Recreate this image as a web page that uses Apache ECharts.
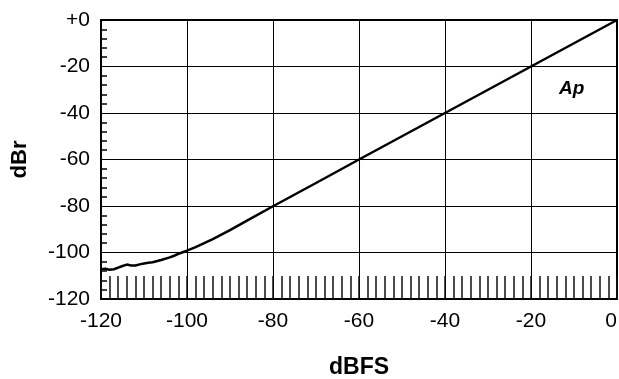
<!DOCTYPE html>
<html>
<head>
<meta charset="utf-8">
<script src="https://cdn.jsdelivr.net/npm/echarts@6/dist/echarts.min.js"></script>
<style>
  html, body { margin: 0; padding: 0; background: #fff; }
  #chart { width: 619px; height: 379px; }
</style>
</head>
<body>
<div id="chart"></div>
<script>
// input level (dBFS) and measured output (dBr)
var inputLevel = [-120, -119, -118, -117, -116, -115, -114, -113, -112, -111, -110, -109, -108, -106, -104, -103, -102, -101, -100, -98, -96, -94, -92, -90, -85, -80, -70, -60, -50, -40, -30, -20, -10, 0];
var outputLevel = [-107.2, -107.0, -107.4, -107.2, -106.5, -105.8, -105.2, -105.6, -105.6, -105.1, -104.7, -104.4, -104.2, -103.2, -102.1, -101.4, -100.6, -99.9, -99.2, -97.7, -96.0, -94.2, -92.3, -90.4, -85.2, -80.1, -70.1, -60.0, -50.0, -40.0, -30.0, -20.0, -10.0, 0];
var xTicks = { min: -120, max: 0, step: 20 };
var yTicks = { min: -120, max: 0, step: 20 };

var chart = echarts.init(document.getElementById('chart'));

var points = [];
for (var i = 0; i < inputLevel.length; i++) {
    points.push([inputLevel[i], outputLevel[i]]);
}

var option = {
    animation: false,
    backgroundColor: '#fff',
    grid: {
        left: 101,
        right: 2,
        top: 20,
        bottom: 80,
        outerBoundsMode: 'none',
        show: true,
        borderColor: '#000',
        borderWidth: 2
    },
    xAxis: {
        type: 'value',
        min: xTicks.min,
        max: xTicks.max,
        interval: xTicks.step,
        name: 'dBFS',
        nameLocation: 'middle',
        nameGap: 57,
        nameTextStyle: { fontFamily: 'Liberation Sans', fontSize: 23, fontWeight: 'bold', color: '#000' },
        axisLine: { show: true, onZero: false, lineStyle: { color: '#000', width: 2 } },
        axisTick: { show: true, inside: true, length: 23, lineStyle: { color: '#111', width: 1.5 } },
        minorTick: { show: true, splitNumber: 10, length: 23, lineStyle: { color: '#111', width: 1.5 } },
        axisLabel: { fontFamily: 'Liberation Sans', fontSize: 21, color: '#000', margin: 12, alignMaxLabel: 'right' },
        splitLine: { show: true, lineStyle: { color: '#000', width: 1 } }
    },
    yAxis: {
        type: 'value',
        min: yTicks.min,
        max: yTicks.max,
        interval: yTicks.step,
        name: 'dBr',
        nameLocation: 'middle',
        nameGap: 70,
        nameRotate: 90,
        nameTextStyle: { fontFamily: 'Liberation Sans', fontSize: 22, fontWeight: 'bold', color: '#000' },
        axisLine: { show: true, onZero: false, lineStyle: { color: '#000', width: 2 } },
        axisTick: { show: false, inside: true },
        minorTick: { show: true, splitNumber: 5, length: 6, lineStyle: { color: '#000', width: 1.5 } },
        axisLabel: {
            fontFamily: 'Liberation Sans', fontSize: 21, color: '#000', margin: 11,
            formatter: function (v) { return v === 0 ? '+0' : String(v); }
        },
        splitLine: { show: true, lineStyle: { color: '#000', width: 1 } }
    },
    graphic: [{
        type: 'text',
        left: 559,
        top: 79,
        style: { text: 'Ap', fontFamily: 'Liberation Sans', fontSize: 19, fontWeight: 'bold', fontStyle: 'italic', fill: '#000' }
    }],
    series: [{
        type: 'line',
        data: points,
        showSymbol: false,
        lineStyle: { color: '#000', width: 2.5 }
    }]
};

chart.setOption(option);
</script>
</body>
</html>
